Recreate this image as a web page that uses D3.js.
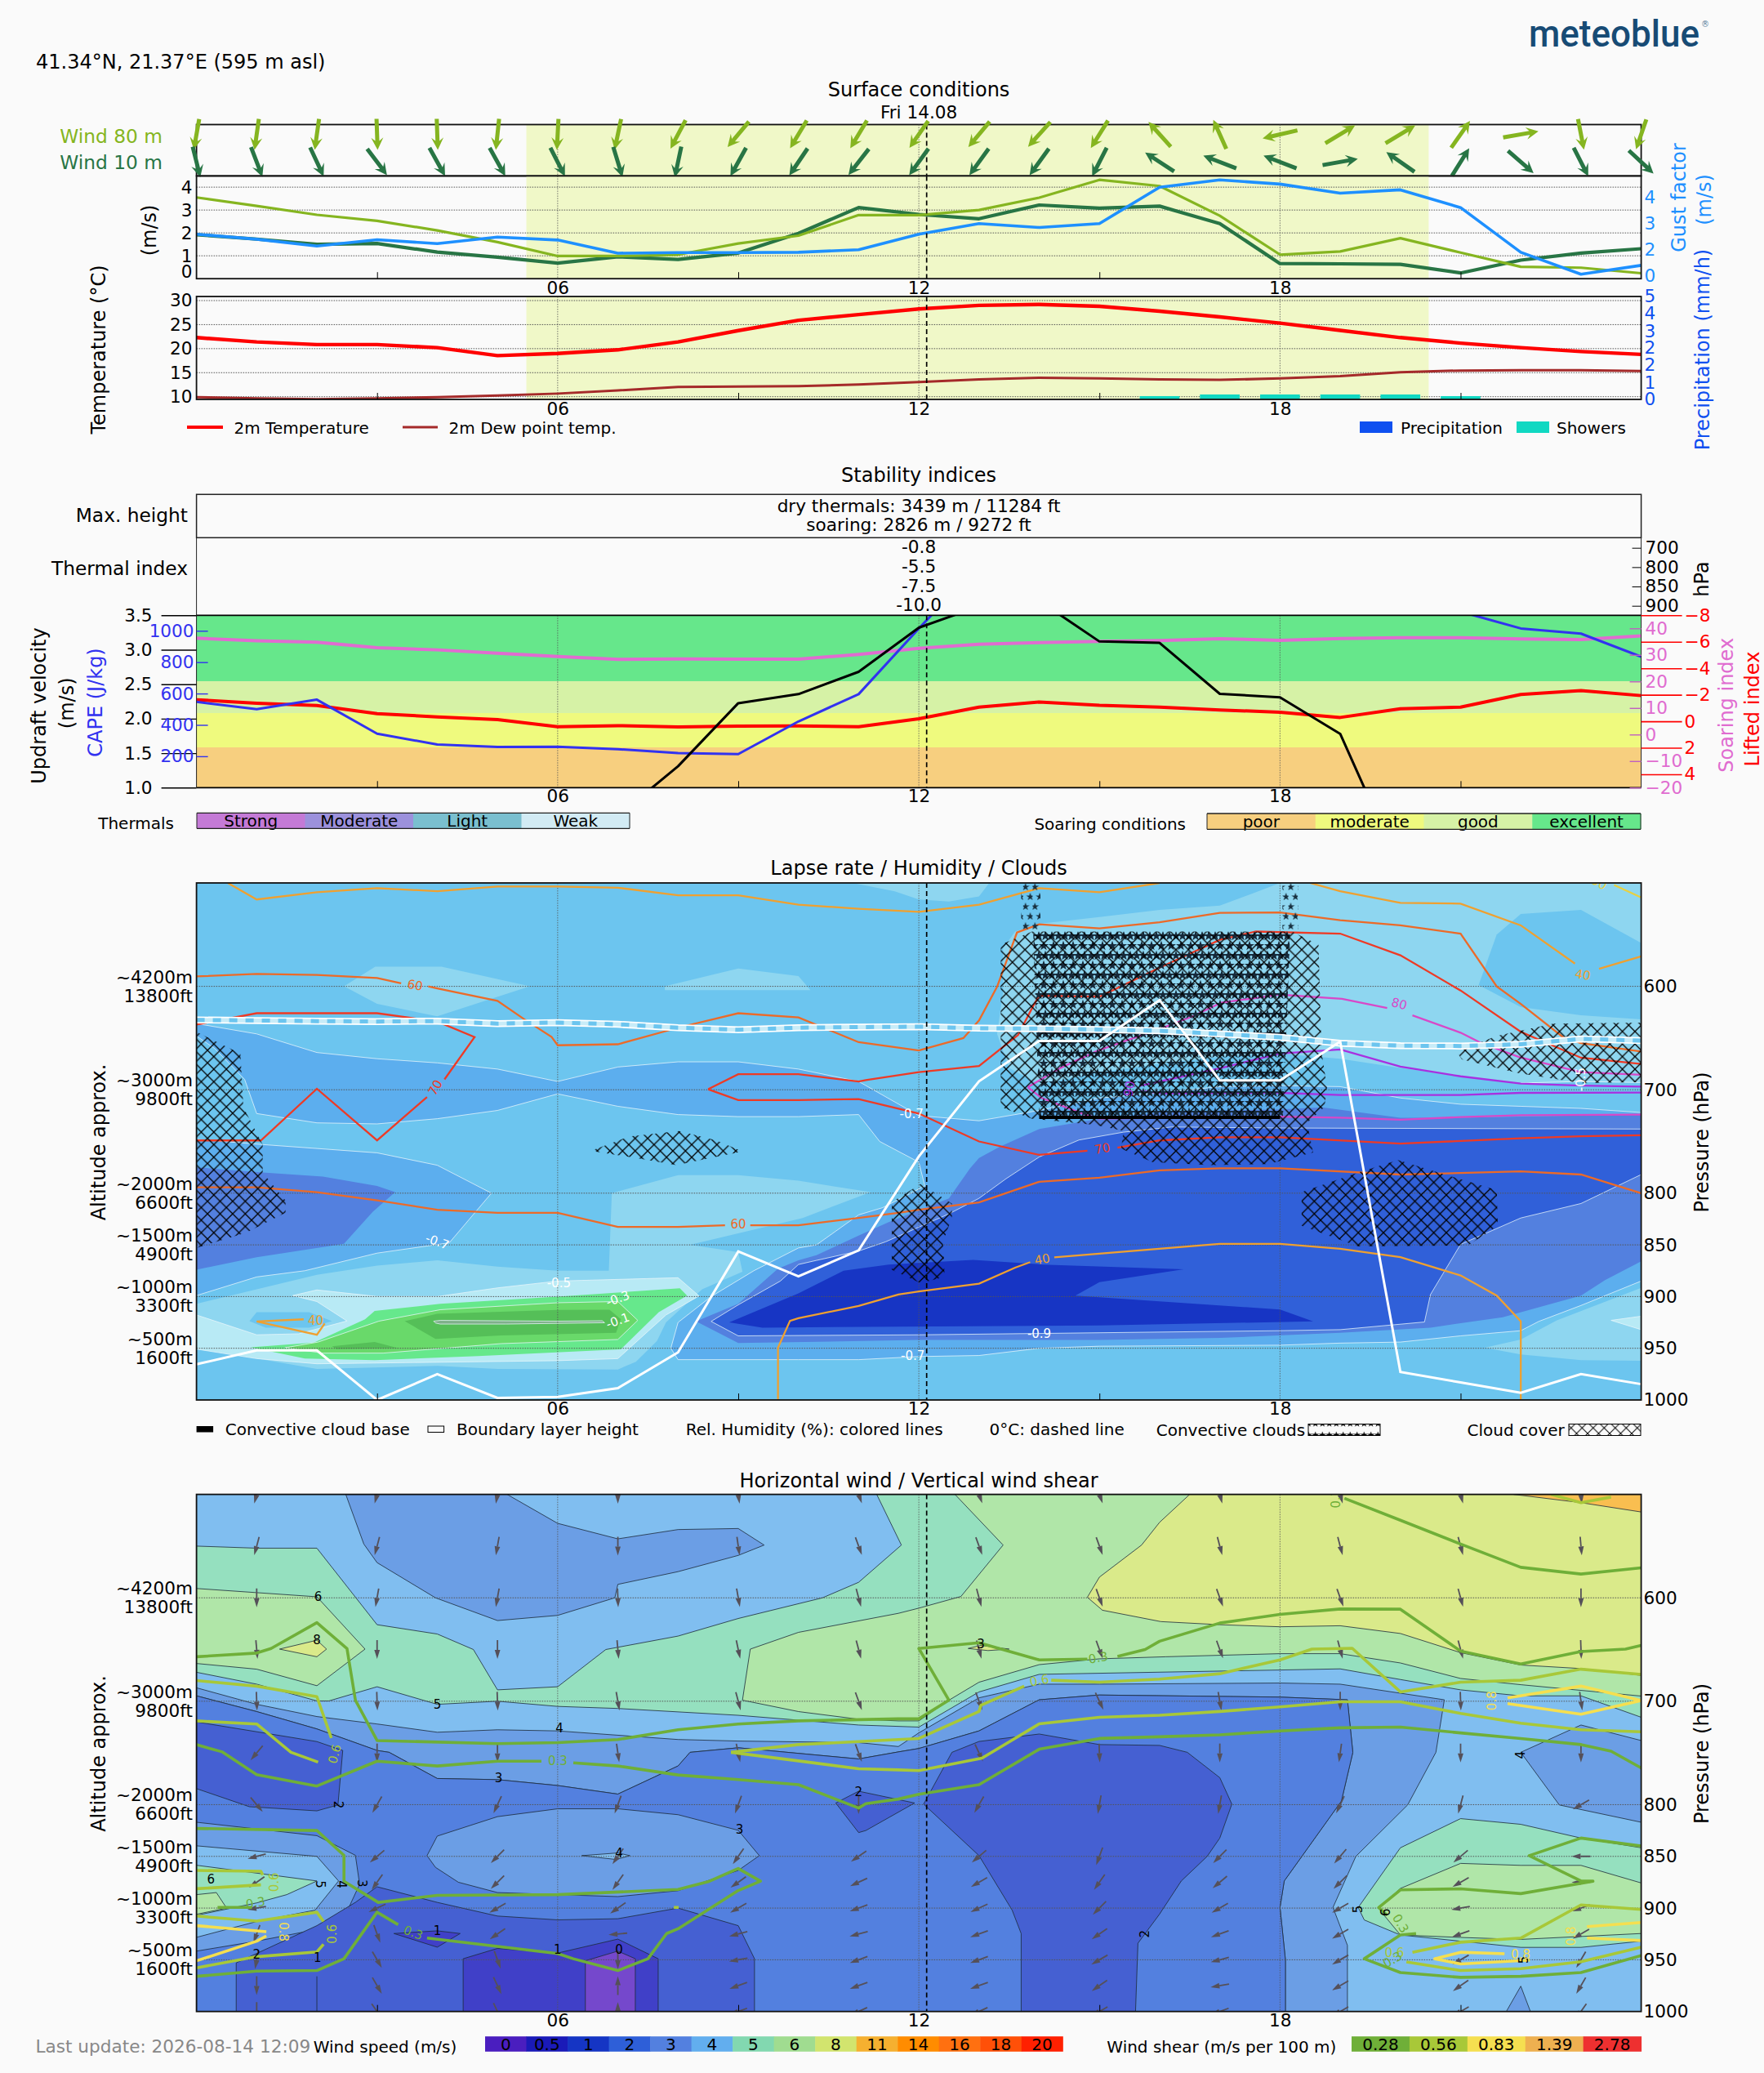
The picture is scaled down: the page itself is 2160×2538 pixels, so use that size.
<!DOCTYPE html>
<html>
<head>
<meta charset="utf-8">
<title>meteoblue soaring</title>
<script src="https://cdn.jsdelivr.net/npm/d3@7"></script>
<style>
  html, body { margin: 0; background: #fafafa; }
  svg text { font-family: "DejaVu Sans", sans-serif; }
  .domain { display: none; }
</style>
</head>
<body>
<div id="chart"></div>
<script>
// ---- surface series, one value per hour 0..24
const hours = d3.range(25);
const wind80 = [3.55,3.18,2.79,2.53,2.11,1.60,0.99,0.99,1.05,1.54,1.88,2.78,2.78,3.0,3.54,4.32,4.05,2.75,1.05,1.19,1.77,1.14,0.52,0.48,0.24];
const wind10 = [1.92,1.73,1.5,1.54,1.16,0.94,0.68,0.96,0.84,1.12,1.98,3.11,2.81,2.62,3.22,3.08,3.17,2.41,0.66,0.65,0.63,0.25,0.81,1.12,1.31];
const gust = [1.6,1.41,1.15,1.39,1.24,1.49,1.38,0.875,0.9,0.9,0.91,1.01,1.6,2.01,1.86,2.01,3.4,3.68,3.52,3.17,3.3,2.62,0.91,0.07,0.41];
const wind80Dir = [190,188,188,178,178,186,183,192,208,220,211,211,215,220,222,212,318,336,257,59,59,35,80,169,199];
const wind10Dir = [166,159,155,143,151,151,153,163,192,209,214,218,216,216,216,207,303,291,291,80,305,32,131,153,133];
const temperature = [22.3,21.4,20.85,20.85,20.2,18.55,19.0,19.75,21.4,23.75,25.9,27.1,28.25,29,29.2,28.8,27.8,26.6,25.3,23.8,22.3,21.15,20.2,19.4,18.8];
const dewPoint = [9.9,9.65,9.5,9.65,9.9,10.25,10.65,11.3,12.05,12.1,12.2,12.55,13.05,13.6,13.95,13.8,13.6,13.5,13.8,14.3,15.1,15.45,15.5,15.5,15.35];
const showerHours = [16,17,18,19,20,21];
const showers = [0.16,0.24,0.24,0.24,0.24,0.16];
const daylight = [5.48,20.47];
const nowHour = 12.13;

const windTicks = [0,1,2,3,4];
const gustTicks = [0,1,2,3];
const gustTickLabels = ["0","2","3","4"];
const tempTicks = [10,15,20,25,30];
const precipTicks = [0,0.83,1.67,2.5,3.33,4.17,5];
const precipTickLabels = ["0","1","2","2","3","4","5"];

// ---- stability
const soaring = [36.3,35.3,34.8,32.7,31.9,30.6,29.4,28.3,28.5,28.4,28.4,30.2,32.5,34,34.6,35.1,35.4,36.1,35.5,36.2,36.5,36.5,36,35.8,37.2];
const lifted = [-1.63,-1.36,-1.19,-0.58,-0.33,-0.13,0.41,0.33,0.43,0.37,0.35,0.41,-0.19,-1.07,-1.46,-1.21,-1.07,-0.86,-0.68,-0.29,-0.95,-1.07,-2.02,-2.32,-1.94];
const cape = [547,500,561,344,275,259,261,245,220,214,422,596,1015,1418,1500,1500,1500,1500,1500,1500,1400,1122,1015,982,835];
const updraft = [0.5,0.5,0.5,0.5,0.5,0.5,0.5,0.59,1.31,2.225,2.356,2.68,3.32,3.63,3.71,3.12,3.1,2.36,2.31,1.78,-0.17,-0.17,-0.17,-0.17,-0.17];
const updraftTicks = [1,1.5,2,2.5,3,3.5];
const capeTicks = [200,400,600,800,1000];
const soaringTicks = [-20,-10,0,10,20,30,40];
const liftedTicks = [-8,-6,-4,-2,0,2,4];
const soaringLimits = [-20,-4.83,8.1,20.1,40];
const soaringColors = ["#f7cf7f","#effa7e","#d6f2a6","#66e78b"];
const soaringNames = ["poor","moderate","good","excellent"];
const thermalNames = ["Strong","Moderate","Light","Weak"];
const thermalColors = ["#c47ad6","#9c91dc","#7abfcf","#d2ebf4"];
const thermalLevels = [700,800,850,900];
const thermalValues = ["-0.8","-5.5","-7.5","-10.0"];

// ---- pressure axes
const pressureTicks = [600,700,800,850,900,950,1000];
const altitudePressure = [600,700,800,850,900,950];
const altitudeMeters = ["~4200m","~3000m","~2000m","~1500m","~1000m","~500m"];
const altitudeFeet = ["13800ft","9800ft","6600ft","4900ft","3300ft","1600ft"];

// ---- lapse rate bands, [hour, hPa]
const lrBase = "#6cc5ef";
const lrLightA = [[2.45,600],[2.97,581],[4.07,581],[5.54,600],[4,629],[3,617]];
const lrLightB = [[7.78,600],[9,582.7],[10,590],[10.2,603.7],[7.78,603.7]];
const lrLightCorner = [[10.9,500],[13.17,500],[13,513],[12.5,518],[12,516],[11.6,508]];
const lrLightTop = [[18,500],[24,500],[24,693],[23,692],[22,693.5],[21,687],[20,679],[19,670],[18,665],[17,668],[16,675],[15,683],[14,695],[13.5,679],[13.3,646],[13.4,605],[13.4,563],[13.6,547],[14,539.5],[15,533],[16,526],[17,522],[17.55,510]];
const lrHoleTop = [[21.6,550],[22,530],[23,526],[24,558],[24,632],[23,628],[22,620],[21.3,598.7]];
const lrLightLow = [[0,907],[1,893],[2,879],[3,870],[4,865],[5,871],[6,875],[6.85,875],[6.9,800],[8,782.5],[9,782.5],[10,788],[11.2,799],[10.07,824],[8.2,850],[9,857],[9.07,876],[8.4,893],[7.8,925],[7.65,943],[7.3,963],[7,970.5],[5,970],[4,967],[2,970],[1,960],[0,947]];
const lrLightRight = [[24,891.5],[22.6,923],[22,941.5],[21.4,949.5],[22,956],[23,961.5],[24,962]];
const lrPalestRight = [[23.5,923],[24,919],[24,932]];
const lrPatch40 = [[0.88,923.8],[1,915],[1.87,915],[2.25,923.8],[1.87,930],[1.15,930]];
const lrPalest = [[0,917.8],[1,937],[1.7,936],[2.5,923.6],[2,904.8],[1.6,899],[2,893.6],[3,899.9],[4,900],[5,891.6],[6,885],[8,881.8],[8.35,899.4],[7.8,917.8],[7.5,933.6],[7,960],[6,962],[2,965],[1,960],[0,950.8]];
const lrGreen1 = [[0.9,949],[1.95,944.6],[2.8,922],[2.96,914],[4.05,907],[6,900],[8.03,892],[8.15,899],[7.68,915],[7.05,951],[4.68,957.5],[2.96,961.4],[1.8,960]];
const lrGreen2 = [[1.47,949.5],[2.02,944],[3.03,923.8],[4.05,912.7],[6,906],[7,904.8],[7.33,923],[7,941.5],[5.06,945.5],[3.1,954.7],[2.1,954.7]];
const lrGreen3 = [[3.46,923.8],[4,916.7],[6,913],[6.86,912.7],[7.05,921.8],[6.97,935],[5.06,937.5],[3.97,941]];
const lrGreen3b = [[2.25,948],[2.96,944],[3.35,949.9],[2.33,950.8]];
const lrCore = [[3.94,923.8],[4.05,923],[6,923.8],[6.74,923.4],[6.78,925.3],[5.14,926.6],[4.05,926.6],[3.97,925.6]];
const lrBlueUpper = [[0,636],[1,646],[2,664],[3,670],[4,674],[5,680],[6,692],[7,678],[8,673],[9,673],[10,680],[11,692],[12,725],[13,730],[14,720],[15,708],[16,703],[17,697],[18,696],[19,697],[20,708],[21,714],[22,716],[23,718],[24,722],[24,885],[23,908.6],[22.3,924],[22,933],[21,938],[20,944],[19,945],[18,947],[15,948],[14,950],[13,957],[12,958],[11,961],[10,961],[9,961],[8,961],[7.88,950],[8,925],[8.55,900],[9.26,875],[10,853],[10.3,850],[11,821],[11.4,814],[12.1,793],[12,770],[11.35,750],[11,724],[10,726],[9,726],[8,724],[7,716],[6,704],[5,720],[4,728],[3,733],[2,732],[1,723],[0.8,690],[0.3,660],[0,648]];
const lrBlueLeft = [[0,748],[1.1,753],[3,761],[4,773],[4.9,800],[4.2,848],[3,858],[1.8,875],[1,881],[0,899]];
const lrMidLeft = [[0,775],[1.1,780],[2.1,784],[3,793],[3.3,799],[2.93,818],[2.45,849],[1,862],[0,874]];
const lrMidRight = [[8.3,924],[9,907],[9.66,873],[10,865],[10.3,860],[11,841],[11.5,828],[12.5,805],[12.85,776],[13,766],[13.35,755],[14,738],[15,728],[16,722],[17,720],[18,719],[18.7,717],[20,727],[21,727],[22,726],[24,724],[24,866],[23.4,884],[23,899],[21.7,920],[20.5,930],[19,935],[17,940],[15,942],[12,942],[9,945]];
const lrDeep = [[8.55,924],[9,908],[9.7,885],[10,869],[10.3,865],[11,856],[11.45,847],[12.5,820],[13,805],[13.45,786],[14,765],[14.66,748.6],[15.4,741],[16.2,736],[18,737],[24,738],[24,782],[23,810],[22,824],[21,849.5],[20.5,898],[20.4,924.6],[19,932],[18,933],[12,937],[9,938]];
const lrDeepest = [[8.85,925],[10,897],[10.75,875],[11.5,869],[12.9,864.5],[14.05,869],[16.4,873.6],[15,886],[14.6,899],[18,912.6],[18.55,924],[15,928],[9.4,930]];
const lrContour05 = [[22,693.5],[23,692],[24,693]];

// ---- humidity lines, null is the gap left for a label
const rh40a = [[0.52,500],[1,516],[2,509],[3,505],[4,508],[5,503.4],[6,503.4],[7,504.6],[8,512],[9,512],[10,521],[11,525],[12,528],[13,521],[14,505],[15,509],[16,500]];
const rh40b = [[18.5,500],[19,508],[20,519.3],[21,520],[22,541],[22.9,578],null,[23.3,583],[24,571]];
const rh30 = [[23.55,502],[24,514]];
const rh40c = [[1.78,922],[1,924],[2,937],[2.13,926]];
const rh40d = [[9.66,1000],[9.66,949.5],[9.86,923.5],[10,921],[11,909],[11.66,898],[12,895],[13,887.5],[13.6,872],[13.85,866.7],null,[14.25,862],[17,849],[18,849],[19,853.8],[20,861.8],[21,879.6],[21.6,899],[22,924],[22,1000]];
const rh60a = [[0,590.4],[1,588],[2,589],[3,592],[3.4,597],null,[3.85,600],[4,602],[5,614],[5.45,632],[5.9,649],[6,657],[7,656],[8,640],[9,626],[10,630],[11,654],[12,662],[12.74,650],[13,633],[13.3,600.4],[13.63,548],[14,540],[15,544],[16,538],[17,529],[18,528.5],[19,536],[20,541],[21,549],[21.6,600],[22,617],[22.7,649],[23,655],[24,663]];
const rh60b = [[0,794.4],[1,794.4],[2,799],[3,807],[4,816],[5,819],[6,819],[7,832.7],[8,832.7],[8.78,831],null,[9.2,831],[10,831],[11,824],[11.66,819],[12,816],[13,809],[14,789],[15,785],[16,778],[17,776],[18,776],[20,782],[22,779],[23,782],[24,800]];
const rh70a = [[0,637],[1,626],[2,626],[3,626],[4,634],[4.62,649],[4.12,690],null,[3.83,707],[3,749],[2,699],[1.07,749],[0,749]];
const rh70b = [[8.5,699.5],[9,685],[10,685],[11,692],[11.12,690.7],[12,683],[13,677],[13.65,647],[13.9,619],[14,609],[15,610],[16,582],[17,555],[17.6,547],[19,549],[20,570],[21,604],[22,644],[23,669],[24,675]];
const rh70c = [[8.5,699.5],[9,710],[10,710],[11,709],[12,723],[13,750],[14,763],[14.8,759],null,[15.3,756],[16,749],[17,746],[18,746],[20,752],[22,747],[23,745],[24,744]];
const rh80a = [[13.81,697.5],[14.35,679],[14.98,662],[16.08,639.5],[16.55,629],[17.02,615.9],[18,608],[19.03,612],[19.78,621],null,[20.2,628],[21,644.8],[21.35,655],[21.98,668.5],[23,683],[24,685.6]];
const rh80b = [[13.81,697.5],[14.04,708],[14.75,723.8],[15,727.7],[18,726],[19,727],[20,729],[21,726.4],[22,724.6],[24,724]];
const rh90a = [[15.69,696],[17.02,679],[18,665],[19,661],[20,677.7],[21,687],[22,694],[23,696],[24,697]];
const rh90b = [[15.69,701.4],[16.08,703.5],[18,703],[19,705],[21,705],[22,703],[24,702.7]];

const freezingLevel = [632.5,633,633.6,634,633.6,636,635,636.7,640,642,640,639.4,639,640.5,640.9,641.7,643,646,649.3,655,657.4,657.7,656,650.8,652.4];
const boundaryLayer = [965.5,952,952,1000,975,998,997,988.5,954,856.4,880.5,855.3,764.5,691.8,652.8,652.8,613.3,691,691,653.5,973,983,993,975,984.7];
const cloudBaseHours = [14,18];
const cloudBasePressure = [726.7,726.7];

// ---- cloud cover and convective cloud outlines
const cloudLeft = [[0,644],[0.73,665],[0.78,717],[1.1,753],[1.1,780],[1.48,807],[1.48,819],[0.83,838],[0,853]];
const cloudSmall = [[6.55,759],[7.2,745],[8.02,740],[8.64,749],[9.07,759.6],[8.54,766],[7.97,773],[7.3,766]];
const cloudNoon = [[11.55,808.6],[12.03,791],[12.55,810],[12.55,823.9],[12.4,847],[12.43,881],[12.03,887],[11.55,874],[11.55,831.5]];
const cloudMain = [[13.36,559.7],[13.88,547],[18.2,547],[18.64,559.7],[18.69,663],[18.78,697.5],[18.74,716.7],[18.45,732],[18.55,760.7],[17.8,772],[16.83,773],[15.88,770],[15.36,757],[15.4,739.7],[14.93,734],[13.88,728],[13.36,716.7],[13.36,648]];
const cloudLobe = [[18.36,799],[19.3,780],[19.96,768],[20.63,780],[21.6,797],[21.62,831.5],[21.12,850.7],[19.3,851.5],[18.36,831.5]];
const cloudRight = [[20.93,663],[21.6,648],[22.54,636],[24,635],[24,692.6],[23.02,693.7],[21.97,684],[21.02,670.7]];
const starsMain = [[13.9,547],[18.17,547],[18.05,726.7],[14,726.7]];
const starsLeft = [[13.7,500],[14.02,500],[14.02,547],[13.7,547]];
const starsRight = [[18.04,500],[18.3,500],[18.3,547],[18.04,547]];

// ---- wind speed bands
const wsBase = "#80bef0";
const wsGreen5 = [[0,550],[1,552],[2,552],[3,626],[4,635],[4.6,650],[5,689],[6,686],[6.8,650],[8,637],[9,620],[10.4,600],[11,585],[11.71,549],[11.3,500],[24,500],[24,715.5],[23,694.8],[22,694.8],[21,689],[20,679],[19,668.7],[18,669.8],[14,674],[13,691],[12,725],[11,723],[9,713.6],[7,707],[6,705],[5,700],[4,703],[3,686],[2.2,699.7],[2,699.7],[1,683.5],[0,672]];
const wsGreen6Left = [[0,591],[2,599],[2.8,649.6],[2,685],[1,669],[0,663.5]];
const wsYellowLeft = [[1.38,649.6],[2,641],[2.16,649.6],[2,657]];
const wsGreen6Right = [[9.07,699],[9.2,649.6],[10,633.4],[11.66,615],[12,610],[12.7,598.7],[13.4,549],[12.6,500],[24,500],[24,695],[22,684],[21,678],[20,663],[19,654],[18,654],[16.1,657],[15,659],[14,664.6],[13,681.6],[12.5,699],[12,719],[11.66,719],[11,717.4],[10,710]];
const wsYellowRight = [[16.5,500],[16,527],[15.7,549],[15,580],[14.8,599.5],[15.05,612],[16.02,623],[17,626],[18,628],[19,627],[20,634.5],[21,653],[22,665],[23,668.4],[24,675],[24,500]];
const wsOrange = [[21.88,500],[23,508],[24,517],[24,500]];
const wsYellowSmall = [[12.82,649],[13.03,646],[13.5,649.6],[13.15,651]];
const ws3Upper = [[2.48,500],[2.78,548],[3,566],[3.97,600],[5,622],[6,617],[6.95,600],[7,587],[8,574.7],[9,559],[9.43,549],[9,533],[8,534],[7,543],[6,528],[5.16,500]];
const ws3Main = [[0,687],[1,703],[2,714.8],[3,722],[4,730],[5,727.6],[6,728.7],[8,737],[9,738.5],[11,740],[11.66,743.8],[12,730.6],[13,696.7],[14,683.5],[15,683.5],[18,682.4],[19,683.5],[20.73,698.6],[20.59,749.4],[20.12,800.3],[19.26,850],[18.88,899.4],[19.12,936],[19.12,1000],[18.09,1000],[18.09,950],[18,899.4],[18.07,873.8],[19.02,796.5],[19.21,749.4],[19.12,698.6],[18,696],[15,694],[14,698.6],[13,728.7],[12,745.7],[11.66,749],[11,755.8],[9,745],[8.2,749.4],[8,762.6],[7,789.8],[6,781.5],[5,775.8],[4,774.7],[3.2,749.4],[3,747.6],[2,726.8],[1,710],[0,694.8]];
const ws2Main = [[0,694.8],[1,710],[2,726.8],[3,747.6],[3.2,749.4],[4,774.7],[5,775.8],[6,781.5],[7,789.8],[8,762.6],[8.2,749.4],[9,745],[11,755.8],[11.66,749],[12,745.7],[13,728.7],[14,698.6],[15,694],[18,696],[19.12,698.6],[19.21,749.4],[19.02,796.5],[18.07,873.8],[18,899.4],[18.09,950],[18.09,1000],[0,1000]];
const wsLobe3 = [[0,817],[2,830],[2.64,849],[2.71,877],[2.45,909.6],[1.97,921],[1,932],[0,941.6]];
const wsLobe4 = [[0,839.8],[2,850],[2.36,873.8],[1.97,902],[1,913],[0,928.3]];
const wsLobe5 = [[0,858.6],[2,873.8],[1.5,887],[1,895],[0,907]];
const wsLobe6 = [[0,887],[0.33,885],[0.5,900],[0,906]];
const wsBlob3 = [[3.83,849.3],[4,830.4],[5,811.6],[6,804],[7,804],[8,809.7],[9,824.8],[9.35,849.3],[9,863.6],[8,883.2],[7,888.9],[5,885],[4.35,875],[3.97,860.6]];
const wsBlob4 = [[6.4,849.3],[7,846.7],[7.2,849.3],[6.97,853]];
const ws1Left = [[0,720],[2,739],[2.43,747.6],[2.35,800.3],[2,806],[0.88,802],[0,784.5]];
const ws1Noon = [[10.62,798.4],[11,787],[11.93,798.4],[11.12,825],[11,827]];
const ws1Right = [[12.08,799.5],[12.55,749.4],[13,738.9],[14,731.7],[15,741.9],[16,742.7],[16.46,749.4],[17,773.9],[17.2,799.5],[17,832.3],[16.79,850],[16.36,873.8],[16,905.8],[15.64,934],[15.6,1000],[13.7,1000],[13.7,924.6],[13.55,902],[13,849.3]];
const ws1Bottom = [[0.66,1000],[0.66,953],[2,917],[2.64,894.5],[3,879.4],[4,894.5],[5,907.7],[6,911.4],[7,910.3],[8,900],[9,917],[9.27,949],[9.27,1000]];
const ws05Small = [[3.28,924.6],[4,922],[4.38,924.6],[4,937.8]];
const ws05Bottom = [[4.43,1000],[4.43,949],[5,939],[6,943.5],[7,930],[7.67,949],[7.67,1000]];
const ws0Bottom = [[6.46,1000],[6.46,951],[7,941.6],[7.29,949],[7.29,1000]];
const wsRight5 = [[19.3,899.4],[20,841.7],[21,813.5],[22,819],[23,832.3],[24,841.7],[24,932],[23,938],[22,938],[21,932],[20,926],[19.4,911.5]];
const wsRight6 = [[19.64,900],[20,881],[21,856.8],[22,858.7],[23,858.7],[24,875.7],[24,924.6],[22,930.3],[21,928.4],[20,926],[19.74,907.7]];
const wsRight3 = [[22,749.4],[23,723],[24,738],[24,817],[22.64,800.3]];
const wsTip3 = [[22,975.5],[21.76,1000],[22.16,1000]];
const wsStem = [[2,966],[2,1000]];

// ---- wind shear lines
const shear03a = [[0,657],[1,653.4],[1.24,649],[2,624],[2.5,649],[2.64,699],[3,738],[5,741],[6,740],[7,737],[8,727.6],[9,722],[10,719],[11.66,717],[12,717],[12.5,699],[12,649],[13,643.4],[14,660],[14.8,659.3],null,[15.3,656.7],[15.76,650],[16,642],[17,624.4],[18,616],[19,610.8],[20,611],[21,651.5],[22,664],[23,652],[23.74,649.6],[24,646]];
const shear03b = [[0,742],[0.43,749],[1,771],[2,782],[3,758],[4,762.6],[5,758],[5.73,758],null,[6.26,759.6],[7,762.6],[8,771.3],[9,775.8],[10,780.7],[11,803.3],[11.12,799],[11.66,794.6],[12,790],[13,780.7],[14,746.4],[15,736],[16,734.4],[17,732.5],[18,728.7],[19,725.7],[20,725],[21,730.6],[22,736],[23,741.9],[23.5,748.3],[24,764.5]];
const shear03c = [[0,823],[2,825],[2.45,849],[2.45,874],[3.02,894.5],[4,887.7],[6,887],[8,882],[8.5,874.5],[9,861.7],[9.37,874],[9,883],[8,920],[7.81,924.6],[7.5,949],[7,960.4],[6.26,949],[6,944],[5,937],[3.83,929],null,[3.35,916],[3,904],[2.45,949],[2,960.4],[1,961],[0,966]];
const shear03d = [[0.35,899.4],[0.92,899.4]];
const shear03e = [[19.07,503.8],[20,525],[21,548],[22,570.5],[23,577],[24,571]];
const shear03f = [[24,840],[23,832.3],[22.14,849.3],[23,873.8],[23.2,874],[22,886],[21,881.4],[20,882.4],[19.64,899.4],[19.78,907]];
const shear03g = [[20.26,924.6],[20,926],[19.4,949],[20,962.3],[21,967],[22,966],[23,962.3],[24,946]];
const shear06a = [[0,680],[1,685.4],[2,695.6],[2.24,735.5]];
const shear06b = [[0,719],[1,722],[1.57,749.4],[2.02,758.9]];
const shear06c = [[8.88,749.4],[10,741.9],[11,739],[11.66,737],[12,736],[13,709.9],[13.03,704],[13.75,685.4],null,[14.2,679.7],[15,681.6],[16,678.6],[17,673.4],[18,660],[18.53,649.6],[19.2,648.8],[20,691],[21,681.6],[22,679.7],[23,669],[24,674]];
const shear06d = [[8.88,749.4],[10,757.7],[11,765.3],[11.66,766.4],[12,767],[13.05,755],[14,721.9],[15,715.5],[16,713.6],[17,709.9],[18,705.4],[19,700.5],[20,700.5],[21,711.8],[22,721.3],[23,727.6],[24,729.5]];
const shear06e = [[0,907.7],[1,912.6],[2,904],[2.11,913]];
const shear06f = [[0,957.8],[1,947],[2,942.4],[2.11,935]];
const shear06g = [[0,881.3],[1.07,877.5]];
const shear06h = [[0,863.6],[1.07,864.4],[1.1,868]];
const shear06i = [[7.93,899.4],[8.01,899.4]];
const shear06j = [[24,901.3],[23,897],[22,929],[21,933],[20.2,942.7]];
const shear06k = [[24,937.8],[23,951.8],[22,958.6],[21,960.4],[20.1,952]];
const shear06l = [[22.5,500],[23,508],[23.5,502.6]];
const shear08a = [[0,917],[1.16,922.8]];
const shear08b = [[0,951],[1,932],[1.16,927]];
const shear08c = [[21.78,696.7],[23,685.4],[24,699.3],[23,712.5],[21.78,702.3]];
const shear08d = [[24,914],[23.1,917.9]];
const shear08e = [[24,931.4],[23.1,929]];
const shear08f = [[21.73,944.2],[21,942.7],[20.57,949],[21,954],[22.15,950.3]];

// ---- quiver directions, rows are levels, columns are the odd hours
const quiverHours = [1,3,5,7,9,11,13,15,17,19,21,23];
const quiverLevels = [500,550,600,650,700,750,800,850,875,900,925,950,975,1000];
const quiverDirs = [
  [195,195,190,180,172,160,160,160,165,165,165,175],
  [195,195,190,180,172,160,160,160,165,165,165,175],
  [180,190,190,178,170,165,165,160,160,160,165,180],
  [175,180,180,175,168,165,165,160,160,165,165,178],
  [178,178,178,170,165,160,160,155,170,180,178,172],
  [220,180,180,172,168,160,155,178,180,188,180,180],
  [140,210,205,200,200,180,210,190,190,205,195,240],
  [255,230,225,215,215,235,230,200,225,220,230,270],
  [235,215,225,215,235,245,240,215,230,225,240,270],
  [260,245,240,235,240,250,245,225,240,240,260,250],
  [200,160,235,265,255,255,250,235,250,240,250,240],
  [190,150,160,180,260,250,250,240,255,240,240,210],
  [180,150,155,0,250,250,250,235,260,240,235,210],
  [180,145,155,0,250,245,245,240,250,240,240,215]
];

// ---- colour scale legends
const speedClasses = ["0","0.5","1","2","3","4","5","6","8","11","14","16","18","20"];
const speedColors = ["#4a1ebf","#1a1ab8","#1535c4","#2e5fd8","#5380df","#62aeee","#82d8b0","#a0dc90","#d2e46e","#f5b030","#ff8c00","#ff7010","#ff5008","#ff2000"];
const shearClasses = ["0.28","0.56","0.83","1.39","2.78"];
const shearColors = ["#6faf38","#a8c838","#f5df50","#eeb050","#ee3030"];

// ---- contour labels: hour, hPa, text, rotation
const lapseLabels = [[4.0,847,"-0.7",20],[6.02,887,"-0.5",0],[7.0,902,"-0.3",-20],[7.0,923.4,"-0.1",-20],[11.88,723.6,"-0.7",0],[11.9,957,"-0.7",0],[14.0,935.7,"-0.9",0],[23,690,"-0.5",-90]];
const rhLabels = [[3.63,599,"60","#ec6a28",10],[3.97,698,"70","#ee3a25",-60],[9.0,830,"60","#ec6a28",0],[1.98,923,"40","#efa030",0],[23.03,589,"40","#efa030",10],[23.3,500,"30","#e8d040",30],[19.98,617,"80","#d848c8",15],[15.5,699,"90","#a830e0",-80],[15.05,757,"70","#ee3a25",-10],[14.05,864,"40","#efa030",-10]];
const speedLabels = [[2.02,599,"6",0],[2,641,"8",0],[4,703,"5",0],[6.03,726,"4",0],[5.02,774,"3",0],[2.35,800,"2",90],[11,788,"2",0],[9.02,824,"3",0],[7.02,847,"4",0],[0.24,872,"6",0],[2.06,877,"5",90],[2.4,877,"4",90],[2.74,876,"3",90],[4,922,"1",0],[6,940,"1",0],[7.02,940,"0",0],[2.01,948,"1",0],[1,945,"2",0],[13.03,645,"3",0],[22.0,752,"4",-90],[15.75,925,"2",-90],[19.3,901,"5",-90],[19.76,904,"6",-90],[22.05,950,"5",-90]];
const shearLabels = [[6,758,"0.3","#6faf38",0],[2.3,751,"0.6","#a8c838",-75],[3.6,924,"0.3","#6faf38",20],[1.29,875,"0.6","#a8c838",-90],[0.98,895,"0.3","#6faf38",-10],[1.45,923,"0.8","#f5df50",90],[2.26,925,"0.6","#a8c838",-90],[14.98,658,"0.3","#6faf38",-10],[14,680,"0.6","#a8c838",-10],[21.52,699.5,"0.8","#f5df50",-90],[18.93,504,"0.3","#6faf38",-90],[20,915,"0.3","#6faf38",60],[19.9,943,"0.6","#a8c838",0],[19.87,950,"0.3","#6faf38",-30],[22.84,927,"0.8","#f5df50",-90],[22,945,"0.8","#f5df50",0]];

// ---- layout
const W = 2160, H = 2538;
const left = 240.6, right = 2009.6;
const svg = d3.select("#chart").append("svg").attr("width", W).attr("height", H).attr("viewBox", `0 0 ${W} ${H}`).style("display", "block");
svg.append("rect").attr("width", W).attr("height", H).attr("fill", "#fafafa");
const x = d3.scaleLinear().domain([0, 24]).range([left, right]);
const defs = svg.append("defs");

// hatch for clouds
function hatchPattern(id, size, width) {
    const p = defs.append("pattern").attr("id", id).attr("patternUnits", "userSpaceOnUse").attr("width", size).attr("height", size);
    p.append("path").attr("d", `M0,0L${size},${size}M${size},0L0,${size}`).attr("stroke", "#000").attr("stroke-width", width).attr("fill", "none");
}
hatchPattern("hatch-cloud", 15.4, 1.3);
hatchPattern("hatch-legend", 13.5, 1);

const starShape = d3.symbol().type(d3.symbolStar).size(30)();
const starTile = defs.append("pattern").attr("id", "hatch-stars").attr("patternUnits", "userSpaceOnUse").attr("width", 11.6).attr("height", 24);
[[2.9, 6], [8.7, 18]].forEach(c => {
    starTile.append("path").attr("d", starShape).attr("transform", `translate(${c[0]},${c[1]})`).attr("fill", "#18303f");
});
// inside the main cloud the rows alternate between spaced stars and an almost solid bar
const starDense = defs.append("pattern").attr("id", "hatch-stars-dense").attr("patternUnits", "userSpaceOnUse").attr("width", 24).attr("height", 24);
[[6, 6], [18, 6], [0, 18], [8, 18], [16, 18], [24, 18]].forEach(c => {
    starDense.append("path").attr("d", d3.symbol().type(d3.symbolStar).size(46)()).attr("transform", `translate(${c[0]},${c[1]})`).attr("fill", "#15293a");
});
const starLegend = defs.append("pattern").attr("id", "hatch-stars-legend").attr("patternUnits", "userSpaceOnUse").attr("width", 8.5).attr("height", 14);
starLegend.append("path").attr("d", d3.symbol().type(d3.symbolStar).size(24)()).attr("transform", "translate(4.25,7)").attr("fill", "#000");

function clip(id, top, bottom) {
    defs.append("clipPath").attr("id", id).append("rect").attr("x", left).attr("y", top).attr("width", right - left).attr("height", bottom - top);
}

function label(g, px, py, txt, size, opts = {}) {
    const t = g.append("text").attr("x", px).attr("y", py).attr("font-size", size)
        .attr("text-anchor", opts.anchor || "middle").attr("dominant-baseline", "central")
        .attr("fill", opts.color || "#000").text(txt);
    if (opts.rotate) t.attr("transform", `rotate(${opts.rotate},${px},${py})`);
    return t;
}

function hourAxis(g, bottom, labelY) {
    const axis = g.append("g").attr("transform", `translate(0,${bottom})`)
        .call(d3.axisTop(x).tickValues([3, 9, 15, 21]).tickSize(8).tickFormat(""));
    axis.selectAll("line").attr("stroke", "#000").attr("stroke-width", 1);
    const labels = g.append("g").attr("transform", `translate(0,${labelY})`)
        .call(d3.axisBottom(x).tickValues([6, 12, 18]).tickSize(0).tickPadding(0).tickFormat(d3.format("02d")));
    labels.selectAll("text").attr("font-size", 21.6).attr("fill", "#000").attr("dy", "-0.1em").attr("dominant-baseline", "central");
}

function hourGrid(g, top, bottom) {
    g.append("g").selectAll("line").data([6, 12, 18]).join("line")
        .attr("x1", d => x(d)).attr("x2", d => x(d)).attr("y1", top).attr("y2", bottom)
        .attr("stroke", "#555").attr("stroke-width", 0.8).attr("stroke-dasharray", "1.5,1.5");
}

function valueGrid(g, scale, ticks) {
    g.append("g").selectAll("line").data(ticks).join("line")
        .attr("x1", left).attr("x2", right).attr("y1", d => scale(d)).attr("y2", d => scale(d))
        .attr("stroke", "#555").attr("stroke-width", 1).attr("stroke-dasharray", "1.5,1.5");
}

function frame(g, top, bottom, width = 1.8) {
    g.append("rect").attr("x", left).attr("y", top).attr("width", right - left).attr("height", bottom - top)
        .attr("fill", "none").attr("stroke", "#111").attr("stroke-width", width);
}

function nowLine(g, top, bottom) {
    g.append("line").attr("x1", x(nowHour)).attr("x2", x(nowHour)).attr("y1", top).attr("y2", bottom)
        .attr("stroke", "#000").attr("stroke-width", 1.7).attr("stroke-dasharray", "6,4");
}

function daylightBand(g, top, bottom) {
    g.append("rect").attr("x", x(daylight[0])).attr("width", x(daylight[1]) - x(daylight[0])).attr("y", top).attr("height", bottom - top).attr("fill", "#f0f8c8");
}

// ---- header
const head = svg.append("g");
label(head, 44, 76, "41.34°N, 21.37°E (595 m asl)", 24, { anchor: "start" });
head.append("text").attr("x", 1872).attr("y", 57).attr("font-size", 46).attr("font-weight", 500).attr("fill", "#174b75")
    .attr("textLength", 209).attr("lengthAdjust", "spacingAndGlyphs").style("font-family", "Roboto, sans-serif").text("meteoblue");
head.append("text").attr("x", 2083).attr("y", 33).attr("font-size", 10).attr("fill", "#5a7f9c").text("®");
label(head, x(12), 110, "Surface conditions", 24);
label(head, x(12), 137, "Fri 14.08", 21.6);

// ---- surface arrows
const arrowPanel = svg.append("g");
const arrowTop = 152.5, arrowBottom = 215.4;
daylightBand(arrowPanel, arrowTop, arrowBottom);
frame(arrowPanel, arrowTop, arrowBottom, 1.8);
hourGrid(arrowPanel, arrowTop, arrowBottom);
nowLine(arrowPanel, arrowTop, arrowBottom);

function bigArrow(g, hour, cy, dir, color) {
    const a = dir * Math.PI / 180;
    const dx = Math.sin(a), dy = -Math.cos(a);
    const len = Math.hypot(dx * 44, dy * 38);
    const nx = -dy, ny = dx, cx = x(hour);
    const tail = [cx - dx * len / 2, cy - dy * len / 2];
    const tip = [cx + dx * len / 2, cy + dy * len / 2];
    const neck = [tip[0] - dx * 15, tip[1] - dy * 15];
    const notch = [tip[0] - dx * 11, tip[1] - dy * 11];
    const path = d3.path();
    path.moveTo(tail[0] + nx * 2.5, tail[1] + ny * 2.5);
    path.lineTo(notch[0] + nx * 2.5, notch[1] + ny * 2.5);
    path.lineTo(neck[0] + nx * 7.5, neck[1] + ny * 7.5);
    path.lineTo(tip[0], tip[1]);
    path.lineTo(neck[0] - nx * 7.5, neck[1] - ny * 7.5);
    path.lineTo(notch[0] - nx * 2.5, notch[1] - ny * 2.5);
    path.lineTo(tail[0] - nx * 2.5, tail[1] - ny * 2.5);
    path.closePath();
    g.append("path").attr("d", path.toString()).attr("fill", color);
}
hours.forEach(h => {
    bigArrow(arrowPanel, h, 164.5, wind80Dir[h], "#85b520");
    bigArrow(arrowPanel, h, 198.3, wind10Dir[h], "#287545");
});
label(arrowPanel, 199, 166, "Wind 80 m", 23.3, { anchor: "end", color: "#85b520" });
label(arrowPanel, 199, 198, "Wind 10 m", 23.3, { anchor: "end", color: "#287545" });

// ---- wind speed panel
const windPanel = svg.append("g");
const windTop = 215.4, windBottom = 341.2;
clip("clip-wind", windTop, windBottom);
const yWind = d3.scaleLinear().domain([0, 4.49]).range([windBottom, windTop]);
const yGust = d3.scaleLinear().domain([0, 3]).range([338, 242]);
daylightBand(windPanel, windTop, windBottom);
valueGrid(windPanel, yWind, [1, 2, 3, 4]);
hourGrid(windPanel, windTop, windBottom);
const hourLine = (scale) => d3.line().x((d, i) => x(hours[i])).y(d => scale(d));
const drawSeries = (g, values, scale, color, width, clipId) => g.append("path").datum(values)
    .attr("d", hourLine(scale)).attr("fill", "none").attr("stroke", color).attr("stroke-width", width)
    .attr("stroke-linejoin", "round").attr("clip-path", clipId ? `url(#${clipId})` : null);
drawSeries(windPanel, wind10, yWind, "#287545", 4.2, "clip-wind");
drawSeries(windPanel, wind80, yWind, "#85b520", 3.2, "clip-wind");
drawSeries(windPanel, gust, yGust, "#1e90ff", 3.6, "clip-wind");
nowLine(windPanel, windTop, windBottom);
frame(windPanel, windTop, windBottom);
hourAxis(windPanel, windBottom, 355);
const windAxis = windPanel.append("g").attr("transform", `translate(${left - 5},0)`)
    .call(d3.axisLeft(yWind).tickValues(windTicks).tickSize(0).tickPadding(0).tickFormat(d3.format("d")));
windAxis.selectAll("text").attr("font-size", 21.6).attr("fill", "#000").attr("dy", d => d === 0 ? "-0.1em" : "0.32em");
const gustAxis = windPanel.append("g").attr("transform", `translate(${right},0)`)
    .call(d3.axisRight(yGust).tickValues(gustTicks).tickSize(0).tickPadding(4).tickFormat((d, i) => gustTickLabels[i]));
gustAxis.selectAll("text").attr("font-size", 21.6).attr("fill", "#1e90ff");
label(windPanel, 183, 282, "(m/s)", 24, { rotate: -90 });
label(windPanel, 2056, 242, "Gust factor", 24, { rotate: -90, color: "#1e90ff" });
label(windPanel, 2087, 244.5, "(m/s)", 24, { rotate: -90, color: "#1e90ff" });

// ---- temperature panel
const tempPanel = svg.append("g");
const tempTop = 363, tempBottom = 489;
clip("clip-temp", tempTop, tempBottom);
const yTemp = d3.scaleLinear().domain([10, 30]).range([485.7, 368]);
const yPrecip = d3.scaleLinear().domain([0, 5]).range([tempBottom, tempTop]);
daylightBand(tempPanel, tempTop, tempBottom);
valueGrid(tempPanel, yTemp, tempTicks);
hourGrid(tempPanel, tempTop, tempBottom);
tempPanel.append("g").selectAll("rect").data(showerHours).join("rect")
    .attr("x", d => x(d - 0.33)).attr("width", x(0.66) - x(0))
    .attr("y", (d, i) => yPrecip(showers[i])).attr("height", (d, i) => tempBottom - yPrecip(showers[i]))
    .attr("fill", "#10d8c2");
drawSeries(tempPanel, dewPoint, yTemp, "#a52a2a", 3, "clip-temp");
drawSeries(tempPanel, temperature, yTemp, "#ff0000", 4.4, "clip-temp");
nowLine(tempPanel, tempTop, tempBottom);
frame(tempPanel, tempTop, tempBottom);
hourAxis(tempPanel, tempBottom, 503);
const tempAxis = tempPanel.append("g").attr("transform", `translate(${left - 5},0)`)
    .call(d3.axisLeft(yTemp).tickValues(tempTicks).tickSize(0).tickPadding(0));
tempAxis.selectAll("text").attr("font-size", 21.6).attr("fill", "#000");
const precipAxis = tempPanel.append("g").attr("transform", `translate(${right},0)`)
    .call(d3.axisRight(yPrecip).tickValues(precipTicks).tickSize(0).tickPadding(4).tickFormat((d, i) => precipTickLabels[i]));
precipAxis.selectAll("text").attr("font-size", 21.6).attr("fill", "#0f50f0");
label(tempPanel, 121, 428, "Temperature (°C)", 24, { rotate: -90 });
label(tempPanel, 2085, 428, "Precipitation (mm/h)", 24, { rotate: -90, color: "#0f50f0" });

const legendTemp = svg.append("g");
legendTemp.append("line").attr("x1", 229).attr("x2", 273).attr("y1", 523).attr("y2", 523).attr("stroke", "#ff0000").attr("stroke-width", 4);
label(legendTemp, 286.5, 524, "2m Temperature", 20, { anchor: "start" });
legendTemp.append("line").attr("x1", 493).attr("x2", 536).attr("y1", 523).attr("y2", 523).attr("stroke", "#a52a2a").attr("stroke-width", 3);
label(legendTemp, 549.6, 524, "2m Dew point temp.", 20, { anchor: "start" });
legendTemp.append("rect").attr("x", 1665).attr("y", 516).attr("width", 40).attr("height", 14).attr("fill", "#0f50f0");
label(legendTemp, 1715, 524, "Precipitation", 20, { anchor: "start" });
legendTemp.append("rect").attr("x", 1857).attr("y", 516).attr("width", 40).attr("height", 14).attr("fill", "#10d8c2");
label(legendTemp, 1906, 524, "Showers", 20, { anchor: "start" });

// ---- stability indices
const stab = svg.append("g");
const stabTop = 753.3, stabBottom = 964.3;
clip("clip-stab", stabTop, stabBottom);
label(stab, x(12), 582.3, "Stability indices", 24);
stab.append("rect").attr("x", left).attr("y", 605.3).attr("width", right - left).attr("height", 658.3 - 605.3).attr("fill", "none").attr("stroke", "#222").attr("stroke-width", 1.5);
label(stab, x(12), 619.3, "dry thermals: 3439 m / 11284 ft", 21.6);
label(stab, x(12), 642.7, "soaring: 2826 m / 9272 ft", 21.6);
label(stab, 230, 630, "Max. height", 23.3, { anchor: "end" });
label(stab, 230, 695, "Thermal index", 23.3, { anchor: "end" });
[left, right].forEach(px => stab.append("line").attr("x1", px).attr("x2", px).attr("y1", 658.3).attr("y2", stabTop).attr("stroke", "#222").attr("stroke-width", 1));
const yThermal = d3.scalePoint().domain(thermalLevels).range([670.7, 741.7]);
thermalValues.forEach((v, i) => label(stab, x(12), yThermal(thermalLevels[i]) - 1, v, 21.6));
const thermalAxis = stab.append("g").attr("transform", `translate(${right},0)`)
    .call(d3.axisRight(yThermal).tickSize(0).tickPadding(5));
thermalAxis.selectAll("text").attr("font-size", 21.6).attr("fill", "#000");
stab.append("g").attr("transform", `translate(${right},0)`)
    .call(d3.axisLeft(yThermal).tickSize(11).tickFormat("")).selectAll("line").attr("stroke", "#000");
label(stab, 2084, 709, "hPa", 24, { rotate: -90 });

const yUpdraft = d3.scaleLinear().domain([1, 3.5]).range([stabBottom, stabTop]);
const yCape = d3.scaleLinear().domain([0, 1000]).range([stabBottom, 772.3]);
const ySoaring = d3.scaleLinear().domain([-20, 40]).range([stabBottom, 769.3]);
const yLifted = d3.scaleLinear().domain([-8, 4]).range([stabTop, 948]);
const clampS = d => Math.max(ySoaring(d), stabTop);
soaringColors.forEach((c, i) => {
    const topEdge = i === 3 ? stabTop : clampS(soaringLimits[i + 1]);
    stab.append("rect").attr("x", left).attr("width", right - left)
        .attr("y", topEdge).attr("height", clampS(soaringLimits[i]) - topEdge).attr("fill", c);
});
hourGrid(stab, stabTop, stabBottom);
drawSeries(stab, soaring, ySoaring, "#e06cd0", 4, "clip-stab");
drawSeries(stab, lifted, yLifted, "#ff0000", 4, "clip-stab");
drawSeries(stab, cape, yCape, "#3232f0", 3, "clip-stab");
drawSeries(stab, updraft, yUpdraft, "#000", 3, "clip-stab");
nowLine(stab, stabTop, stabBottom);
stab.append("line").attr("x1", left).attr("x2", right).attr("y1", stabTop).attr("y2", stabTop).attr("stroke", "#000").attr("stroke-width", 1.8);
stab.append("line").attr("x1", left).attr("x2", right).attr("y1", stabBottom).attr("y2", stabBottom).attr("stroke", "#000").attr("stroke-width", 1.8);
[left, right].forEach(px => stab.append("line").attr("x1", px).attr("x2", px).attr("y1", stabTop).attr("y2", stabBottom).attr("stroke", "#222").attr("stroke-width", 1));
hourAxis(stab, stabBottom, 976.7);

const updraftAxis = stab.append("g").attr("transform", `translate(${left},0)`)
    .call(d3.axisLeft(yUpdraft).tickValues(updraftTicks).tickSize(43).tickPadding(11).tickFormat(d3.format(".1f")));
updraftAxis.selectAll("text").attr("font-size", 21.6).attr("fill", "#000");
updraftAxis.selectAll("line").attr("stroke", "#000").attr("stroke-width", 1.4);
const capeLabels = stab.append("g").attr("transform", `translate(${left - 3},0)`)
    .call(d3.axisLeft(yCape).tickValues(capeTicks).tickSize(0).tickPadding(0).tickFormat(d3.format("d")));
capeLabels.selectAll("text").attr("font-size", 21.6).attr("fill", "#3232f0");
stab.append("g").attr("transform", `translate(${left},0)`)
    .call(d3.axisRight(yCape).tickValues(capeTicks).tickSize(14).tickFormat(""))
    .selectAll("line").attr("stroke", "#3232f0").attr("stroke-width", 1.4);
const soaringLabels = stab.append("g").attr("transform", `translate(${right},0)`)
    .call(d3.axisRight(ySoaring).tickValues(soaringTicks).tickSize(0).tickPadding(5).tickFormat(d3.format("d")));
soaringLabels.selectAll("text").attr("font-size", 21.6).attr("fill", "#e06cd0");
stab.append("g").attr("transform", `translate(${right},0)`)
    .call(d3.axisLeft(ySoaring).tickValues(soaringTicks).tickSize(14).tickFormat(""))
    .selectAll("line").attr("stroke", "#c060c0").attr("stroke-width", 1.4);
const liftedAxis = stab.append("g").attr("transform", `translate(${right},0)`)
    .call(d3.axisRight(yLifted).tickValues(liftedTicks).tickSize(50).tickPadding(3).tickFormat(d3.format("d")));
liftedAxis.selectAll("text").attr("font-size", 21.6).attr("fill", "#ff0000");
liftedAxis.selectAll("line").attr("stroke", "#ff0000").attr("stroke-width", 1.6);

label(stab, 48, 864, "Updraft velocity", 24, { rotate: -90 });
label(stab, 82, 860.8, "(m/s)", 24, { rotate: -90 });
label(stab, 117, 860, "CAPE (J/kg)", 24, { rotate: -90, color: "#3232f0" });
label(stab, 2114, 863.3, "Soaring index", 24, { rotate: -90, color: "#e06cd0" });
label(stab, 2146, 868, "Lifted index", 24, { rotate: -90, color: "#ff0000" });

function classLegend(g, names, colors, x0, x1, y0, y1, size, border) {
    const band = d3.scaleBand().domain(names).range([x0, x1]);
    names.forEach((n, i) => {
        g.append("rect").attr("x", band(n)).attr("y", y0).attr("width", band.bandwidth() + 0.5).attr("height", y1 - y0).attr("fill", colors[i]);
        label(g, band(n) + band.bandwidth() / 2, (y0 + y1) / 2, n, size);
    });
    if (border) {
        [y0, y1].forEach(v => g.append("line").attr("x1", x0).attr("x2", x1).attr("y1", v).attr("y2", v).attr("stroke", "#222").attr("stroke-width", 1.3));
        [x0, x1].forEach(v => g.append("line").attr("x1", v).attr("x2", v).attr("y1", y0).attr("y2", y1).attr("stroke", "#222").attr("stroke-width", 1));
    }
}
label(stab, 213, 1008, "Thermals", 20, { anchor: "end" });
classLegend(stab, thermalNames, thermalColors, 241, 771, 995.3, 1014.3, 20, true);
label(stab, 1452, 1009, "Soaring conditions", 20, { anchor: "end" });
classLegend(stab, soaringNames, soaringColors, 1478, 2009, 996, 1015.3, 20, true);

// ---- pressure panels shared bits
function polyPath(xs, ys) {
    return d3.line().x(d => xs(d[0])).y(d => ys(d[1])).curve(d3.curveLinearClosed);
}
function openPath(xs, ys) {
    return d3.line().defined(d => d !== null).x(d => xs(d[0])).y(d => ys(d[1]));
}
function pressureFrame(g, ys, top, bottom, hourLabelY, labelPx) {
    frame(g, top, bottom);
    hourAxis(g, bottom, hourLabelY);
    const axisR = g.append("g").attr("transform", `translate(${right},0)`)
        .call(d3.axisRight(ys).tickValues(pressureTicks).tickSize(0).tickPadding(3).tickFormat(d3.format("d")));
    axisR.selectAll("text").attr("font-size", 21.6).attr("fill", "#000");
    altitudePressure.forEach((p, i) => {
        label(g, 236, ys(p) - 11.5, altitudeMeters[i], 21.6, { anchor: "end" });
        label(g, 236, ys(p) + 11.5, altitudeFeet[i], 21.6, { anchor: "end" });
    });
    label(g, 120.7, labelPx, "Altitude approx.", 24, { rotate: -90 });
    label(g, 2084, labelPx, "Pressure (hPa)", 24, { rotate: -90 });
}

// ---- lapse rate panel
const lapse = svg.append("g");
const lapseTop = 1081, lapseBottom = 1714;
clip("clip-lapse", lapseTop, lapseBottom);
label(lapse, x(12), 1063, "Lapse rate / Humidity / Clouds", 24);
const yLapse = d3.scaleLinear().domain([500, 1000]).range([lapseTop, lapseBottom]);
const lapseBody = lapse.append("g").attr("clip-path", "url(#clip-lapse)");
lapseBody.append("rect").attr("x", left).attr("y", lapseTop).attr("width", right - left).attr("height", lapseBottom - lapseTop).attr("fill", lrBase);

const lrLight = "#8ed6f0", lrPale = "#b8eaf5", lrBlue = "#5caeee", lrMid = "#5380df", lrDeepC = "#3060d9", lrDarkC = "#1735c4";
const lapseBands = [
    [lrLightA, lrLight, 0], [lrLightB, lrLight, 0], [lrLightCorner, lrLight, 0], [lrLightTop, lrLight, 0], [lrHoleTop, lrBase, 0],
    [lrLightLow, lrLight, 0], [lrLightRight, lrLight, 0], [lrPalestRight, lrPale, 1], [lrPatch40, lrBase, 0], [lrPalest, lrPale, 1],
    [lrGreen1, "#66e88c", 0], [lrGreen2, "#69d96a", 1], [lrGreen3, "#55bf58", 0], [lrGreen3b, "#55bf58", 0], [lrCore, "#7fb08a", 1],
    [lrBlueUpper, lrBlue, 1], [lrBlueLeft, lrBlue, 1], [lrMidLeft, lrMid, 0], [lrMidRight, lrMid, 0], [lrDeep, lrDeepC, 1], [lrDeepest, lrDarkC, 0]
];
lapseBands.forEach(b => {
    lapseBody.append("path").datum(b[0]).attr("d", polyPath(x, yLapse)).attr("fill", b[1])
        .attr("stroke", b[2] ? "#e8f6fb" : "none").attr("stroke-width", 0.9).attr("stroke-opacity", 0.85);
});
lapseBody.append("path").datum(lrContour05).attr("d", openPath(x, yLapse)).attr("fill", "none").attr("stroke", "#e8f6fb").attr("stroke-width", 0.9);
valueGrid(lapseBody, yLapse, altitudePressure);
hourGrid(lapseBody, lapseTop, lapseBottom);

const rhLines = [
    [rh30, "#e8d040"], [rh40a, "#efa030"], [rh40b, "#efa030"], [rh40c, "#efa030"], [rh40d, "#efa030"],
    [rh60a, "#ec6a28"], [rh60b, "#ec6a28"], [rh70a, "#ee3a25"], [rh70b, "#ee3a25"], [rh70c, "#ee3a25"],
    [rh80a, "#d848c8"], [rh80b, "#d848c8"], [rh90a, "#a830e0"], [rh90b, "#a830e0"]
];
rhLines.forEach(l => {
    lapseBody.append("path").datum(l[0]).attr("d", openPath(x, yLapse)).attr("fill", "none").attr("stroke", l[1]).attr("stroke-width", 2.3);
});
[[starsMain, "hatch-stars-dense"], [starsLeft, "hatch-stars"], [starsRight, "hatch-stars"]].forEach(s => {
    lapseBody.append("path").datum(s[0]).attr("d", polyPath(x, yLapse)).attr("fill", `url(#${s[1]})`);
});
[cloudLeft, cloudSmall, cloudNoon, cloudMain, cloudLobe, cloudRight].forEach(c => {
    lapseBody.append("path").datum(c).attr("d", polyPath(x, yLapse)).attr("fill", "url(#hatch-cloud)");
});
lapseBody.append("path").datum(cloudBasePressure)
    .attr("d", d3.line().x((d, i) => x(cloudBaseHours[i])).y(d => yLapse(d)))
    .attr("stroke", "#000").attr("stroke-width", 4).attr("fill", "none");
const freezingPath = d3.line().x((d, i) => x(hours[i])).y(d => yLapse(d));
lapseBody.append("path").datum(freezingLevel).attr("d", freezingPath).attr("fill", "none").attr("stroke", "#fff").attr("stroke-width", 8.5);
lapseBody.append("path").datum(freezingLevel).attr("d", freezingPath).attr("fill", "none").attr("stroke", "#c8ecf8").attr("stroke-width", 5);
lapseBody.append("path").datum(freezingLevel).attr("d", freezingPath).attr("fill", "none").attr("stroke", "#6cc5ef").attr("stroke-width", 5).attr("stroke-dasharray", "10,10");
lapseBody.append("path").datum(boundaryLayer).attr("d", freezingPath).attr("fill", "none").attr("stroke", "#fff").attr("stroke-width", 3);
nowLine(lapseBody, lapseTop, lapseBottom);
lapseLabels.forEach(d => label(lapseBody, x(d[0]), yLapse(d[1]), d[2], 15, { color: "#fff", rotate: d[3] }));
rhLabels.forEach(d => label(lapseBody, x(d[0]), yLapse(d[1]), d[2], 15, { color: d[3], rotate: d[4] }));
pressureFrame(lapse, yLapse, lapseTop, lapseBottom, 1727, 1398.5);

const legendLapse = svg.append("g");
legendLapse.append("rect").attr("x", 240.6).attr("y", 1746).attr("width", 20.5).attr("height", 7.5).attr("fill", "#000");
label(legendLapse, 275.7, 1750, "Convective cloud base", 20, { anchor: "start" });
legendLapse.append("rect").attr("x", 524).attr("y", 1746).attr("width", 19.6).attr("height", 7.5).attr("fill", "#fafafa").attr("stroke", "#000").attr("stroke-width", 1);
label(legendLapse, 559, 1750, "Boundary layer height", 20, { anchor: "start" });
label(legendLapse, 839.7, 1750, "Rel. Humidity (%): colored lines", 20, { anchor: "start" });
label(legendLapse, 1211.5, 1750, "0°C: dashed line", 20, { anchor: "start" });
label(legendLapse, 1415.7, 1751, "Convective clouds", 20, { anchor: "start" });
legendLapse.append("rect").attr("x", 1602).attr("y", 1743.5).attr("width", 88).attr("height", 14).attr("fill", "url(#hatch-stars-legend)").attr("stroke", "#000").attr("stroke-width", 1);
label(legendLapse, 1796.6, 1751, "Cloud cover", 20, { anchor: "start" });
legendLapse.append("rect").attr("x", 1921).attr("y", 1743.5).attr("width", 88).attr("height", 14).attr("fill", "url(#hatch-legend)").attr("stroke", "#000").attr("stroke-width", 1);

// ---- wind / shear panel
const shearG = svg.append("g");
const hwTop = 1829.6, hwBottom = 2462.7;
clip("clip-hw", hwTop, hwBottom);
label(shearG, x(12), 1813, "Horizontal wind / Vertical wind shear", 24);
const yHw = d3.scaleLinear().domain([500, 1000]).range([hwTop, hwBottom]);
const hwBody = shearG.append("g").attr("clip-path", "url(#clip-hw)");
hwBody.append("rect").attr("x", left).attr("y", hwTop).attr("width", right - left).attr("height", hwBottom - hwTop).attr("fill", wsBase);
const sp3 = "#6b9ee5", sp2 = "#5380df", sp1 = "#4560d2", sp05 = "#4040c8", sp0 = "#7548cc", sp5 = "#95e0bf", sp6 = "#b0e6a8", sp8 = "#daea8a", sp11 = "#f9be50";
const speedBands = [
    [wsGreen5, sp5], [wsGreen6Left, sp6], [wsYellowLeft, sp8], [wsGreen6Right, sp6], [wsYellowRight, sp8], [wsOrange, sp11], [wsYellowSmall, sp8],
    [ws3Upper, sp3], [ws3Main, sp3], [ws2Main, sp2], [wsLobe3, sp3], [wsLobe4, wsBase], [wsLobe5, sp5], [wsLobe6, sp6],
    [wsBlob3, sp3], [wsBlob4, wsBase], [ws1Left, sp1], [ws1Noon, sp1], [ws1Right, sp1], [ws1Bottom, sp1], [ws05Small, sp05], [ws05Bottom, sp05], [ws0Bottom, sp0],
    [wsRight5, sp5], [wsRight6, sp6], [wsRight3, sp3], [wsTip3, sp3]
];
speedBands.forEach(b => {
    hwBody.append("path").datum(b[0]).attr("d", polyPath(x, yHw)).attr("fill", b[1]).attr("stroke", "#1c2a3a").attr("stroke-width", 0.8);
});
hwBody.append("path").datum(wsStem).attr("d", openPath(x, yHw)).attr("stroke", "#1c2a3a").attr("stroke-width", 0.8);
valueGrid(hwBody, yHw, altitudePressure);
hourGrid(hwBody, hwTop, hwBottom);

// quiver arrows
quiverLevels.forEach((lev, r) => {
    quiverHours.forEach((h, c) => {
        const a = quiverDirs[r][c] * Math.PI / 180;
        const dx = Math.sin(a), dy = -Math.cos(a), cx = x(h), cy = yHw(lev);
        const nx = -dy, ny = dx, len = 23;
        const tip = [cx + dx * len / 2, cy + dy * len / 2];
        const neck = [tip[0] - dx * 11, tip[1] - dy * 11];
        const path = d3.path();
        path.moveTo(tip[0], tip[1]);
        path.lineTo(neck[0] + nx * 3.4, neck[1] + ny * 3.4);
        path.lineTo(neck[0] - nx * 3.4, neck[1] - ny * 3.4);
        path.closePath();
        hwBody.append("line").attr("x1", cx - dx * len / 2).attr("y1", cy - dy * len / 2).attr("x2", neck[0]).attr("y2", neck[1])
            .attr("stroke", "#555059").attr("stroke-width", 1.8);
        hwBody.append("path").attr("d", path.toString()).attr("fill", "#555059");
    });
});

const shearLines = [
    [shear03a, "#6faf38"], [shear03b, "#6faf38"], [shear03c, "#6faf38"], [shear03d, "#6faf38"], [shear03e, "#6faf38"], [shear03f, "#6faf38"], [shear03g, "#6faf38"],
    [shear06a, "#a8c838"], [shear06b, "#a8c838"], [shear06c, "#a8c838"], [shear06d, "#a8c838"], [shear06e, "#a8c838"], [shear06f, "#a8c838"], [shear06g, "#a8c838"], [shear06h, "#a8c838"], [shear06i, "#a8c838"], [shear06j, "#a8c838"], [shear06k, "#a8c838"], [shear06l, "#a8c838"],
    [shear08a, "#f5df50"], [shear08b, "#f5df50"], [shear08c, "#f5df50"], [shear08d, "#f5df50"], [shear08e, "#f5df50"], [shear08f, "#f5df50"]
];
shearLines.forEach(l => {
    hwBody.append("path").datum(l[0]).attr("d", openPath(x, yHw)).attr("fill", "none").attr("stroke", l[1]).attr("stroke-width", 3.6).attr("stroke-linejoin", "round");
});
nowLine(hwBody, hwTop, hwBottom);
speedLabels.forEach(d => label(hwBody, x(d[0]), yHw(d[1]), d[2], 15, { rotate: d[3] }));
shearLabels.forEach(d => label(hwBody, x(d[0]), yHw(d[1]), d[2], 15, { color: d[3], rotate: d[4] }));
pressureFrame(shearG, yHw, hwTop, hwBottom, 2475.6, 2147);

const legendBottom = svg.append("g");
label(legendBottom, 43.5, 2505.6, "Last update: 2026-08-14 12:09", 21.6, { anchor: "start", color: "#888" });
label(legendBottom, 383.7, 2506, "Wind speed (m/s)", 20, { anchor: "start" });
classLegend(legendBottom, speedClasses, speedColors, 594, 1301.3, 2493.2, 2511.8, 20, false);
label(legendBottom, 1355.3, 2506, "Wind shear (m/s per 100 m)", 20, { anchor: "start" });
classLegend(legendBottom, shearClasses, shearColors, 1655, 2009.6, 2493.2, 2511.8, 20, false);
</script>
</body>
</html>
